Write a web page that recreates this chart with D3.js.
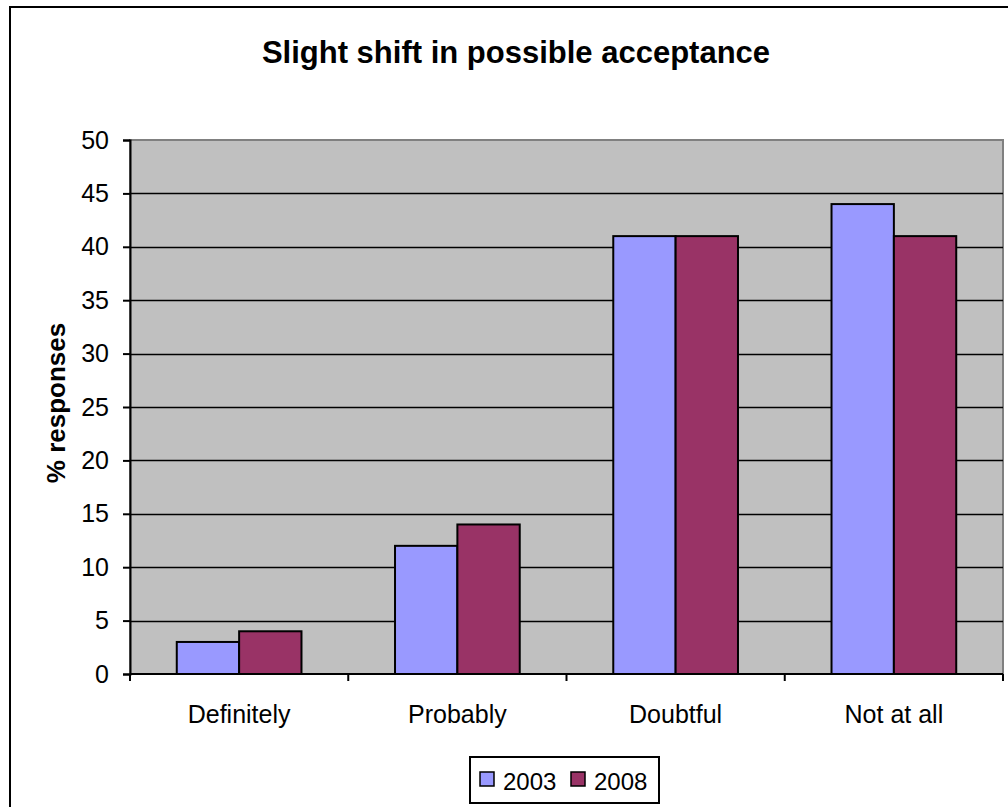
<!DOCTYPE html>
<html><head><meta charset="utf-8">
<script src="https://cdn.jsdelivr.net/npm/d3@7"></script>
<style>body{margin:0;background:#fff}svg{display:block}text{font-family:"Liberation Sans",Arial,sans-serif;fill:#000}</style>
</head><body>
<script>
const categories = ["Definitely", "Probably", "Doubtful", "Not at all"];
const seriesNames = ["2003", "2008"];
const values2003 = [3, 12, 41, 44];
const values2008 = [4, 14, 41, 41];
const yTicks = [0, 5, 10, 15, 20, 25, 30, 35, 40, 45, 50];
const colors = ["#9999FF", "#993366"];
const title = "Slight shift in possible acceptance";
const yLabel = "% responses";

const W = 1008, H = 807;
const svg = d3.select("body").append("svg").attr("width", W).attr("height", H);
svg.append("rect").attr("x", 10).attr("y", 7).attr("width", 1010).attr("height", 820)
  .attr("fill", "#fff").attr("stroke", "#000").attr("stroke-width", 2);

const L = 130, R = 1003, T = 140, B = 674;
const x = d3.scaleBand().domain(categories).range([L, R]).paddingInner(0).paddingOuter(0);
const x1 = d3.scaleBand().domain(seriesNames).range([0, x.bandwidth()]).paddingInner(0).paddingOuter(0.75);
const y = d3.scaleLinear().domain([0, 50]).range([B, T]);

// plot area
svg.append("rect").attr("x", L).attr("y", T).attr("width", R - L).attr("height", B - T)
  .attr("fill", "#C0C0C0").attr("stroke", "#808080").attr("stroke-width", 2);

// gridlines
svg.append("g").selectAll("line").data(yTicks.filter(d => d > 0 && d < 50)).join("line")
  .attr("x1", L).attr("x2", R).attr("y1", d => Math.round(y(d)) + 0.5).attr("y2", d => Math.round(y(d)) + 0.5)
  .attr("stroke", "#000").attr("stroke-width", 1.3);

// bars
const data = categories.map((c, i) => ({c, vals: [values2003[i], values2008[i]]}));
const g = svg.append("g").selectAll("g").data(data).join("g").attr("transform", d => `translate(${x(d.c)},0)`);
g.selectAll("rect").data(d => d.vals.map((v, j) => ({s: seriesNames[j], v, j}))).join("rect")
  .attr("x", d => x1(d.s)).attr("width", x1.bandwidth())
  .attr("y", d => y(d.v)).attr("height", d => y(0) - y(d.v))
  .attr("fill", d => colors[d.j]).attr("stroke", "#000").attr("stroke-width", 2);

// y axis
const yAxis = d3.axisLeft(y).tickValues(yTicks).tickSize(7).tickPadding(14);
const ya = svg.append("g").attr("transform", `translate(${L},0)`).call(yAxis);
ya.select(".domain").attr("stroke", "#000").attr("stroke-width", 2);
ya.selectAll(".tick line").attr("stroke", "#000").attr("stroke-width", 2);
ya.selectAll(".tick text").attr("font-size", 25).attr("font-family", "Liberation Sans, Arial, sans-serif").attr("fill", "#000");

// x axis
const xa = svg.append("g").attr("transform", `translate(0,${B})`);
xa.append("line").attr("x1", L).attr("x2", R).attr("y1", 0).attr("y2", 0).attr("stroke", "#000").attr("stroke-width", 2);
const bounds = categories.map(c => x(c)).concat([R]);
xa.selectAll("line.tk").data(bounds).join("line").attr("class", "tk")
  .attr("x1", d => d).attr("x2", d => d).attr("y1", 0).attr("y2", 7).attr("stroke", "#000").attr("stroke-width", 2);
xa.selectAll("text").data(categories).join("text")
  .attr("x", d => x(d) + x.bandwidth() / 2).attr("y", 49).attr("text-anchor", "middle")
  .attr("font-size", 25).text(d => d);

// title
svg.append("text").attr("x", 516).attr("y", 63).attr("text-anchor", "middle")
  .attr("font-size", 31).attr("font-weight", "bold").text(title);

// y label
svg.append("text").attr("transform", "translate(65,403) rotate(-90)").attr("text-anchor", "middle")
  .attr("font-size", 26).attr("font-weight", "bold").text(yLabel);

// legend
const lg = svg.append("g");
lg.append("rect").attr("x", 470).attr("y", 757).attr("width", 189).attr("height", 46)
  .attr("fill", "#fff").attr("stroke", "#000").attr("stroke-width", 2);
const lx = [480, 571];
seriesNames.forEach((s, i) => {
  lg.append("rect").attr("x", lx[i]).attr("y", 772).attr("width", 14).attr("height", 14)
    .attr("fill", colors[i]).attr("stroke", "#000").attr("stroke-width", 1.5);
  lg.append("text").attr("x", lx[i] + 23).attr("y", 790).attr("font-size", 24).text(s);
});
</script>
</body></html>
